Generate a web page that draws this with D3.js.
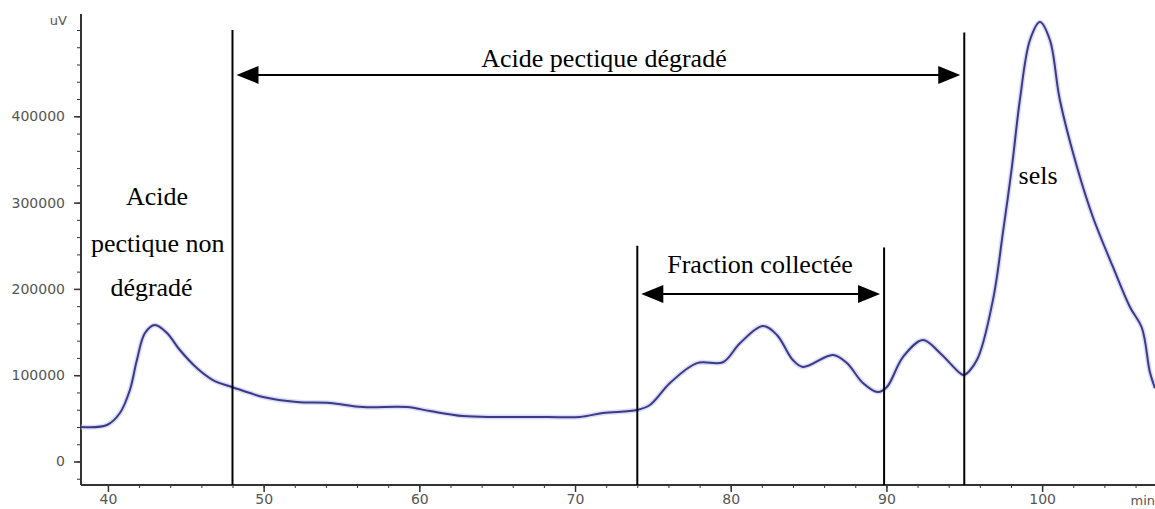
<!DOCTYPE html>
<html lang="fr">
<head>
    <meta charset="UTF-8">
    <title>Chromatogramme acide pectique</title>
    <script src="https://d3js.org/d3.v7.min.js"></script>
    <style>
        body { margin: 0; background: #fff; }
        .tick-label { font-family: "DejaVu Sans", sans-serif; font-size: 14px; fill: #555; }
        .note { font-family: "Liberation Serif", "Times New Roman", serif; font-size: 26px; fill: #000; }
    </style>
</head>
<body>
    <svg></svg>
    <script>
        // elution time (min) and detector signal (uV)
        const times = [38.27, 39.94, 40.77, 41.41, 41.86, 42.38, 43.02, 43.79, 44.62, 45.71, 46.74, 47.96,
            49.12, 49.96, 52.14, 54.26, 56.38, 59.2, 60.68, 62.8, 64.98, 68.2, 70.31, 71.79, 73.98,
            74.81, 76.1, 77.83, 79.5, 80.59, 82.07, 82.97, 83.99, 84.64, 86.56, 87.46, 88.49, 89.45,
            90.03, 91.06, 92.34, 93.44, 94.72, 94.98, 95.81, 96.84, 97.48, 98.06, 98.57, 99.22, 99.86,
            100.5, 101.14, 102.24, 103.26, 104.55, 105.64, 106.41, 106.92, 107.25];
        const signal = [40000, 42300, 56200, 82800, 117600, 148900, 158200, 148900, 129200, 108300, 94400, 86300,
            79400, 74700, 68900, 67800, 63100, 63100, 58500, 52700, 51600, 51600, 51600, 56200, 59700,
            65500, 91000, 114000, 115000, 137000, 157000, 146600, 117600, 109500, 123400, 114100, 91000, 80500,
            86300, 121000, 140800, 125700, 102500, 100200, 117600, 187000, 264800, 341200, 418800, 488400, 509200,
            488400, 418800, 341200, 283300, 225400, 179000, 154700, 103700, 85000];

        const xTicks = [40, 50, 60, 70, 80, 90, 100];
        const yTicks = [0, 100000, 200000, 300000, 400000];

        // vertical cut lines: time and top of line
        const cutTimes = [48, 74, 89.85, 95];
        const cutTops = [500000, 250000, 248000, 497000];

        // double arrows: from cut index, to cut index, signal level
        const arrowFrom = [0, 1];
        const arrowTo = [3, 2];
        const arrowLevel = [448000, 194000];

        // annotation texts with anchor time and baseline level
        const noteTexts = ["Acide pectique dégradé", "Fraction collectée", "Acide", "pectique non", "dégradé", "sels"];
        const noteTimes = [71.86, 81.88, 43.15, 43.2, 42.8, 99.74];
        const noteLevels = [457000, 218400, 297200, 242700, 191800, 321500];

        const width = 1155, height = 509;

        const x = d3.scaleLinear().domain([38.27, 107.25]).range([81, 1155]);
        const y = d3.scaleLinear().domain([-27230, 518540]).range([485, 14]);

        const svg = d3.select("svg")
            .attr("width", width)
            .attr("height", height);

        // minor ticks
        svg.append("g")
            .attr("transform", "translate(0,485)")
            .call(d3.axisBottom(x).tickValues(d3.range(40, 107, 2)).tickSize(3).tickFormat(""))
            .call(g => g.select(".domain").remove())
            .call(g => g.selectAll("line").attr("stroke", "#333"));
        svg.append("g")
            .attr("transform", "translate(81,0)")
            .call(d3.axisLeft(y).tickValues(d3.range(-20000, 518000, 20000)).tickSize(4).tickFormat(""))
            .call(g => g.select(".domain").remove())
            .call(g => g.selectAll("line").attr("stroke", "#333"));

        // major ticks + labels
        const xAxis = svg.append("g")
            .attr("transform", "translate(0,485)")
            .call(d3.axisBottom(x).tickValues(xTicks).tickSize(7).tickPadding(2).tickSizeOuter(0));
        xAxis.select(".domain").remove();
        xAxis.selectAll("line").attr("stroke", "#333").attr("stroke-width", 1.5);
        xAxis.selectAll("text").attr("class", "tick-label").attr("dy", "0.71em");

        const yAxis = svg.append("g")
            .attr("transform", "translate(81,0)")
            .call(d3.axisLeft(y).tickValues(yTicks).tickSize(7).tickPadding(9).tickFormat(d3.format("d")));
        yAxis.select(".domain").remove();
        yAxis.selectAll("line").attr("stroke", "#333").attr("stroke-width", 1.5);
        yAxis.selectAll("text").attr("class", "tick-label");

        // axis lines
        svg.append("line")
            .attr("x1", x.range()[0]).attr("x2", x.range()[1])
            .attr("y1", y.range()[0]).attr("y2", y.range()[0])
            .attr("stroke", "#333").attr("stroke-width", 2);
        svg.append("line")
            .attr("x1", x.range()[0]).attr("x2", x.range()[0])
            .attr("y1", y.range()[0]).attr("y2", y.range()[1])
            .attr("stroke", "#333").attr("stroke-width", 2);

        svg.append("text").attr("class", "tick-label")
            .attr("x", 67).attr("y", 25).attr("text-anchor", "end")
            .style("font-size", "13px")
            .text("uV");
        svg.append("text").attr("class", "tick-label")
            .attr("x", 1155).attr("y", 505).attr("text-anchor", "end")
            .style("font-size", "13px")
            .text("min");

        // trace
        const points = times.map((t, i) => [t, signal[i]]);
        const line = d3.line()
            .x(d => x(d[0]))
            .y(d => y(d[1]))
            .curve(d3.curveCatmullRom.alpha(0.5));

        svg.append("path")
            .datum(points)
            .attr("d", line)
            .attr("fill", "none")
            .attr("stroke", "#c4c4f2")
            .attr("stroke-width", 5)
            .attr("opacity", 0.6);
        svg.append("path")
            .datum(points)
            .attr("d", line)
            .attr("fill", "none")
            .attr("stroke", "#3a3a86")
            .attr("stroke-width", 2);

        // cut lines
        svg.selectAll(".cut")
            .data(cutTimes)
            .enter()
            .append("line")
            .attr("class", "cut")
            .attr("x1", d => x(d)).attr("x2", d => x(d))
            .attr("y1", (d, i) => y(cutTops[i]))
            .attr("y2", y.range()[0])
            .attr("stroke", "#000")
            .attr("stroke-width", 2);

        // arrows
        arrowLevel.forEach((lvl, i) => {
            const x0 = x(cutTimes[arrowFrom[i]]) + 4;
            const x1 = x(cutTimes[arrowTo[i]]) - 4;
            const yy = y(lvl);
            const g = svg.append("g");
            g.append("line")
                .attr("x1", x0 + 10).attr("x2", x1 - 10)
                .attr("y1", yy).attr("y2", yy)
                .attr("stroke", "#000").attr("stroke-width", 2);
            g.append("path")
                .attr("d", `M${x0},${yy}L${x0 + 22},${yy - 9}L${x0 + 22},${yy + 9}Z`)
                .attr("fill", "#000");
            g.append("path")
                .attr("d", `M${x1},${yy}L${x1 - 22},${yy - 9}L${x1 - 22},${yy + 9}Z`)
                .attr("fill", "#000");
        });

        // notes
        svg.selectAll(".note")
            .data(noteTexts)
            .enter()
            .append("text")
            .attr("class", "note")
            .attr("x", (d, i) => x(noteTimes[i]))
            .attr("y", (d, i) => y(noteLevels[i]))
            .attr("text-anchor", "middle")
            .text(d => d);
    </script>
</body>
</html>
